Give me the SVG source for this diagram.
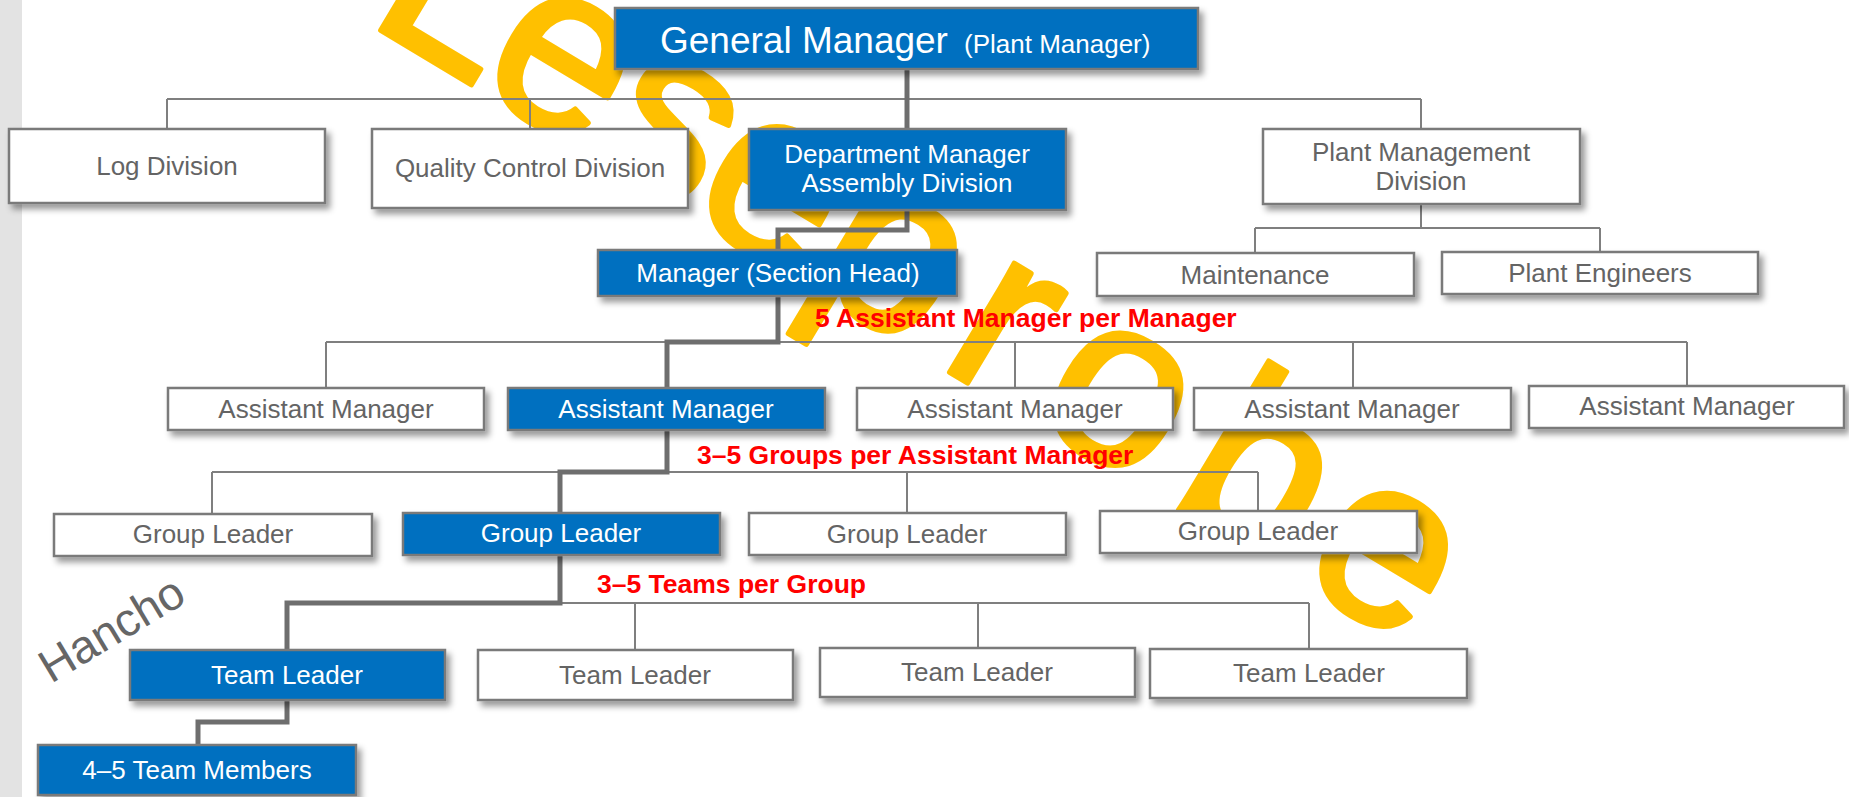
<svg xmlns="http://www.w3.org/2000/svg" width="1849" height="797" viewBox="0 0 1849 797">
<defs>
<filter id="sh" x="-10%" y="-20%" width="125%" height="160%">
<feDropShadow dx="4" dy="5" stdDeviation="3" flood-color="#000" flood-opacity="0.4"/>
</filter>
<style>
.box{stroke:#7a7a7a;stroke-width:2.5;filter:url(#sh)}
.w{fill:#fff}
.b{fill:#0070C0}
.t{font-family:"Liberation Sans",Arial,sans-serif;font-size:26px;text-anchor:middle}
.tg{fill:#646464}
.tw{fill:#fff}
.thin{stroke:#7f7f7f;stroke-width:2;fill:none}
.thick{stroke:#6e6e6e;stroke-width:5;fill:none;stroke-linejoin:miter;stroke-linecap:square}
.red{font-family:"Liberation Sans",Arial,sans-serif;font-weight:bold;font-size:26.5px;fill:#f00}
.wm{font-family:"Liberation Sans",Arial,sans-serif;font-size:240px;fill:#FFC000;stroke:#FFC000;stroke-width:5;stroke-linejoin:round;text-anchor:middle}
</style>
</defs>
<rect x="0" y="0" width="1849" height="797" fill="#fff"/>
<rect x="0" y="0" width="22" height="797" fill="#e3e3e3"/>
<text class="wm" transform="rotate(31)"><tspan x="389" y="-170">L</tspan><tspan x="515" y="-170">e</tspan><tspan x="640" y="-170">s</tspan><tspan x="762" y="-170">e</tspan><tspan x="898" y="-170">p</tspan><tspan x="1029" y="-170">r</tspan><tspan x="1164" y="-170">o</tspan><tspan x="1324" y="-170">b</tspan><tspan x="1474" y="-170">e</tspan></text>

<g id="connectors">
<path class="thin" d="M167,99H1421M167,99V129M530,99V129M1421,99V129"/>
<path class="thin" d="M1421,204V228M1255,228H1600M1255,228V253M1600,228V252"/>
<path class="thin" d="M326,342H1687M326,342V388M1015,342V388M1353,342V388M1687,342V386"/>
<path class="thin" d="M212,472H1258M212,472V514M907,472V513M1258,472V511"/>
<path class="thin" d="M287,603H1309M635,603V650M978,603V648M1309,603V649"/>
<path class="thick" d="M907,69V129"/>
<path class="thick" d="M907,210V230H778V250"/>
<path class="thick" d="M778,296V342H667V388"/>
<path class="thick" d="M667,430V472H560V513"/>
<path class="thick" d="M560,555V603H287V650"/>
<path class="thick" d="M287,700V722H198V745"/>
</g>

<g id="gm"><rect class="box b" x="615" y="8" width="583" height="61"/>
<text x="660" y="53" font-family="'Liberation Sans',Arial,sans-serif" fill="#fff"><tspan font-size="37">General Manager</tspan><tspan x="964" font-size="26">(Plant Manager)</tspan></text></g>

<g id="log"><rect class="box w" x="9" y="129" width="316" height="74"/><text class="t tg" x="167" y="175">Log Division</text></g>
<g id="qc"><rect class="box w" x="372" y="129" width="316" height="79"/><text class="t tg" x="530" y="177">Quality Control Division</text></g>
<g id="dept"><rect class="box b" x="749" y="129" width="317" height="81"/><text class="t tw" x="907" y="163">Department Manager</text><text class="t tw" x="907" y="192">Assembly Division</text></g>
<g id="pmd"><rect class="box w" x="1263" y="129" width="317" height="75"/><text class="t tg" x="1421" y="161">Plant Management</text><text class="t tg" x="1421" y="190">Division</text></g>

<g id="mgr"><rect class="box b" x="598" y="250" width="359" height="46"/><text class="t tw" x="778" y="282">Manager (Section Head)</text></g>
<g id="maint"><rect class="box w" x="1097" y="253" width="317" height="43"/><text class="t tg" x="1255" y="284">Maintenance</text></g>
<g id="eng"><rect class="box w" x="1442" y="252" width="316" height="42"/><text class="t tg" x="1600" y="282">Plant Engineers</text></g>

<g id="am1"><rect class="box w" x="168" y="388" width="316" height="42"/><text class="t tg" x="326" y="418">Assistant Manager</text></g>
<g id="am2"><rect class="box b" x="508" y="388" width="317" height="42"/><text class="t tw" x="666" y="418">Assistant Manager</text></g>
<g id="am3"><rect class="box w" x="857" y="388" width="316" height="42"/><text class="t tg" x="1015" y="418">Assistant Manager</text></g>
<g id="am4"><rect class="box w" x="1194" y="388" width="317" height="42"/><text class="t tg" x="1352" y="418">Assistant Manager</text></g>
<g id="am5"><rect class="box w" x="1529" y="386" width="315" height="42"/><text class="t tg" x="1687" y="415">Assistant Manager</text></g>

<g id="gl1"><rect class="box w" x="54" y="514" width="318" height="42"/><text class="t tg" x="213" y="543">Group Leader</text></g>
<g id="gl2"><rect class="box b" x="403" y="513" width="317" height="42"/><text class="t tw" x="561" y="542">Group Leader</text></g>
<g id="gl3"><rect class="box w" x="749" y="513" width="317" height="42"/><text class="t tg" x="907" y="543">Group Leader</text></g>
<g id="gl4"><rect class="box w" x="1100" y="511" width="317" height="42"/><text class="t tg" x="1258" y="540">Group Leader</text></g>

<g id="tl1"><rect class="box b" x="130" y="650" width="315" height="50"/><text class="t tw" x="287" y="684">Team Leader</text></g>
<g id="tl2"><rect class="box w" x="478" y="650" width="315" height="50"/><text class="t tg" x="635" y="684">Team Leader</text></g>
<g id="tl3"><rect class="box w" x="820" y="648" width="315" height="49"/><text class="t tg" x="977" y="681">Team Leader</text></g>
<g id="tl4"><rect class="box w" x="1150" y="649" width="317" height="49"/><text class="t tg" x="1309" y="682">Team Leader</text></g>

<g id="tm"><rect class="box b" x="38" y="745" width="318" height="50"/><text class="t tw" x="197" y="779">4–5 Team Members</text></g>

<g id="labels">
<text class="red" x="815" y="327">5 Assistant Manager per Manager</text>
<text class="red" x="697" y="464">3–5 Groups per Assistant Manager</text>
<text class="red" x="597" y="593">3–5 Teams per Group</text>
<text x="51" y="684" transform="rotate(-31 51 684)" font-family="'Liberation Sans',Arial,sans-serif" font-size="46.5" fill="#666">Hancho</text>
</g>
</svg>
